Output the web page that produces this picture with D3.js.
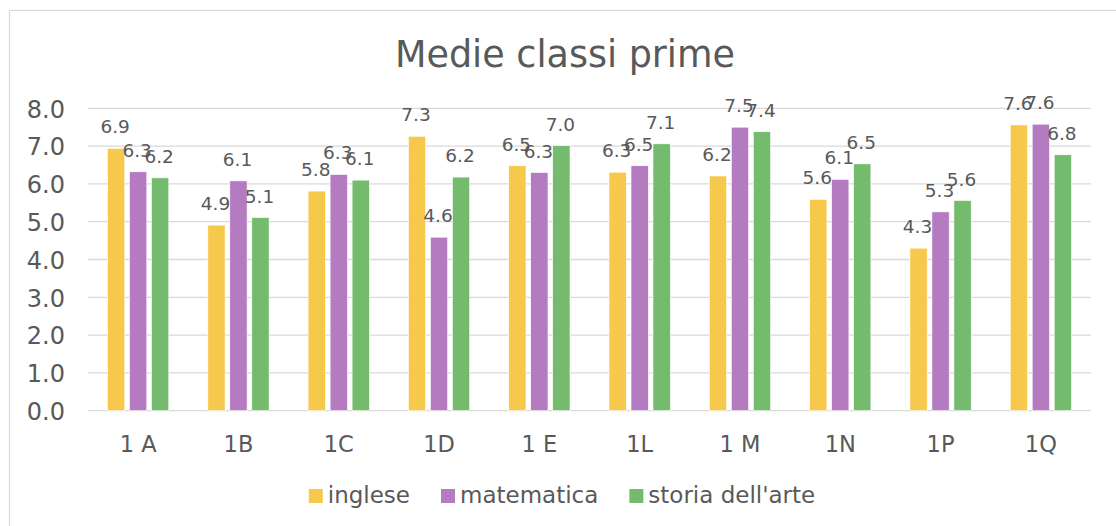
<!DOCTYPE html>
<html lang="it">
<head>
<meta charset="UTF-8" />
<title>Medie classi prime</title>
<script src="https://cdn.jsdelivr.net/npm/d3@7"></script>
<style>
  body { margin: 0; background: #fff; }
  svg text { font-family: "DejaVu Sans", Verdana, sans-serif; fill: #595959; }
</style>
</head>
<body>
<script>
  const classi = ["1 A", "1B", "1C", "1D", "1 E", "1L", "1 M", "1N", "1P", "1Q"];
  const materie = ["inglese", "matematica", "storia dell'arte"];
  const inglese = [6.94, 4.91, 5.81, 7.26, 6.48, 6.31, 6.21, 5.59, 4.30, 7.56];
  const matematica = [6.32, 6.08, 6.25, 4.59, 6.30, 6.48, 7.50, 6.12, 5.26, 7.58];
  const storiaArte = [6.16, 5.11, 6.10, 6.18, 7.01, 7.06, 7.38, 6.53, 5.56, 6.77];
  const yTicks = [0, 1, 2, 3, 4, 5, 6, 7, 8];
  const colori = ["#f6c94d", "#b57bc1", "#75bb6e"];

  const W = 1116, H = 526;
  const plot = { left: 88, right: 1091, top: 108.3, bottom: 410.7 };
  const serie = [inglese, matematica, storiaArte];

  const svg = d3.select("body").append("svg").attr("width", W).attr("height", H);

  // chart frame
  svg.append("rect")
    .attr("x", 9.5).attr("y", 10.5)
    .attr("width", W + 20).attr("height", H + 20)
    .attr("fill", "none").attr("stroke", "#d9d9d9").attr("stroke-width", 1.2);

  svg.append("text")
    .attr("x", 565).attr("y", 66.5)
    .attr("text-anchor", "middle")
    .style("font-size", "36.5px")
    .text("Medie classi prime");

  const y = d3.scaleLinear().domain([0, 8]).range([plot.bottom, plot.top]);
  const x0 = d3.scaleBand().domain(classi).range([plot.left, plot.right])
    .paddingInner(0.389).paddingOuter(0.1945);
  const x1 = d3.scaleBand().domain(materie).range([0, x0.bandwidth()]).paddingInner(0.214);

  // gridlines
  svg.append("g").selectAll("line")
    .data(yTicks)
    .join("line")
    .attr("x1", plot.left).attr("x2", plot.right)
    .attr("y1", d => y(d)).attr("y2", d => y(d))
    .attr("stroke", "#d9d9d9").attr("stroke-width", 1.3);

  // y axis labels
  const yAxis = d3.axisLeft(y).tickValues(yTicks).tickFormat(d3.format(".1f")).tickSize(0).tickPadding(0);
  svg.append("g")
    .attr("transform", `translate(65,0)`)
    .call(yAxis)
    .call(g => g.select(".domain").remove())
    .call(g => g.selectAll("text").style("font-size", "24px").attr("fill", "#595959").attr("dy", "0.37em"));

  // x axis labels
  const xAxis = d3.axisBottom(x0).tickSize(0).tickPadding(0);
  svg.append("g")
    .attr("transform", `translate(0,${plot.bottom})`)
    .call(xAxis)
    .call(g => g.select(".domain").remove())
    .call(g => g.selectAll("text").style("font-size", "22.5px").attr("fill", "#595959").attr("dy", null).attr("y", 41));

  const dati = [];
  classi.forEach((c, i) => {
    materie.forEach((m, j) => dati.push({ classe: c, materia: m, valore: serie[j][i], col: colori[j] }));
  });

  svg.append("g").selectAll("rect")
    .data(dati)
    .join("rect")
    .attr("x", d => x0(d.classe) + x1(d.materia))
    .attr("y", d => y(d.valore))
    .attr("width", x1.bandwidth())
    .attr("height", d => y(0) - y(d.valore))
    .attr("fill", d => d.col)
    .attr("stroke", "#fff").attr("stroke-width", 0.6);

  // data labels
  svg.append("g").selectAll("text")
    .data(dati)
    .join("text")
    .attr("x", d => x0(d.classe) + x1(d.materia) + x1.bandwidth() / 2 - 1)
    .attr("y", d => y(d.valore) - 15)
    .attr("text-anchor", "middle")
    .style("font-size", "18.5px")
    .attr("fill", "#404040")
    .text(d => d3.format(".1f")(d.valore));

  // legend
  const legend = svg.append("g");
  let lx = 0;
  materie.forEach((m, j) => {
    const item = legend.append("g").attr("transform", `translate(${lx},0)`);
    item.append("rect").attr("x", 0).attr("y", 489).attr("width", 14).attr("height", 14).attr("fill", colori[j]);
    const t = item.append("text").attr("x", 19).attr("y", 503).style("font-size", "23px").text(m);
    lx += 19 + t.node().getComputedTextLength() + 31;
  });
  const legW = lx - 31;
  legend.attr("transform", `translate(${562 - legW / 2},0)`);
</script>
</body>
</html>
